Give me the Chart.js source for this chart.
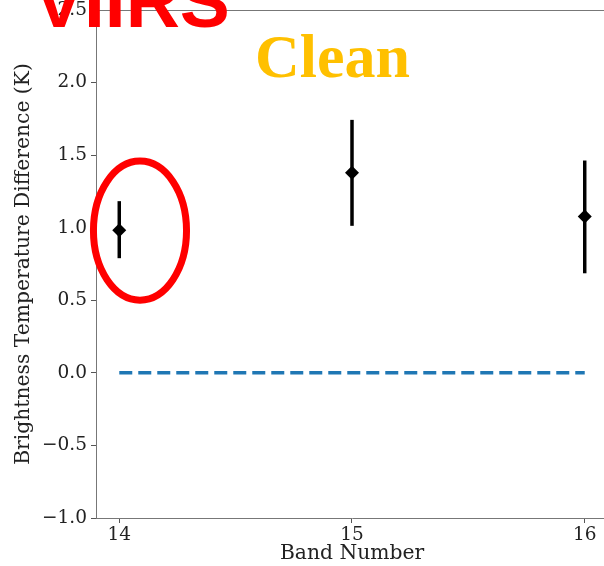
<!DOCTYPE html>
<html>
<head>
<meta charset="utf-8">
<script src="https://cdn.jsdelivr.net/npm/chart.js@4/dist/chart.umd.min.js"></script>
<style>
  html, body { margin: 0; padding: 0; background: #fff; overflow: hidden; width: 604px; height: 566px; }
  #wrap { position: relative; width: 620px; height: 566px; }
  canvas { position: absolute; left: 0; top: 0; }
  .lbl { position: absolute; white-space: nowrap; line-height: 1; }
  #viirs { font-family: "Liberation Sans", Arial, sans-serif; font-weight: bold; font-size: 75px; color: #ff0000; left: 34px; top: -36px; }
  #clean { font-family: "Liberation Serif", "Times New Roman", serif; font-weight: bold; font-size: 62px; color: #ffc000; left: 255px; top: 25px; }
</style>
</head>
<body>
<div id="wrap">
  <canvas id="c" width="620" height="566"></canvas>
  <div class="lbl" id="viirs">VIIRS</div>
  <div class="lbl" id="clean">Clean</div>
</div>
<script>
// ---- data ----
const bands = [14, 15, 16];
const meanDiff = [0.983, 1.378, 1.077];
const errLow = [0.79, 1.013, 0.686];
const errHigh = [1.183, 1.743, 1.463];
const zeroLineBands = [14, 16];
const zeroLineValues = [0, 0];
const yTickValues = [-1.0, -0.5, 0.0, 0.5, 1.0, 1.5, 2.0, 2.5];
const xTickValues = [14, 15, 16];
// highlight ellipse (data units)
const ellipseCenter = [14.089, 0.98];
const ellipseRadii = [0.2, 0.479];

const datasets = [];
datasets.push({
  type: 'line',
  data: zeroLineBands.map((b, i) => ({ x: b, y: zeroLineValues[i] })),
  borderColor: '#1f77b4',
  borderWidth: 3.5,
  borderDash: [13, 6],
  pointRadius: 0,
  fill: false
});
bands.forEach((b, i) => {
  datasets.push({
    type: 'line',
    data: [{ x: b, y: errLow[i] }, { x: b, y: errHigh[i] }],
    borderColor: '#000',
    borderWidth: 3.5,
    borderCapStyle: 'butt',
    pointRadius: 0,
    fill: false
  });
});
datasets.push({
  type: 'scatter',
  data: bands.map((b, i) => ({ x: b, y: meanDiff[i] })),
  backgroundColor: '#000',
  borderColor: '#000',
  pointStyle: 'rectRot',
  pointRadius: 7,
  borderWidth: 0
});

const fmt = v => (v < 0 ? '\u2212' : '') + Math.abs(v).toFixed(1);

const frame = {
  id: 'frame',
  afterDraw(chart) {
    const { ctx, chartArea: a, scales } = chart;
    ctx.save();
    // top spine
    ctx.strokeStyle = '#777';
    ctx.lineWidth = 1;
    ctx.beginPath();
    ctx.moveTo(a.left, a.top + 0.5);
    ctx.lineTo(a.right, a.top + 0.5);
    ctx.stroke();
    // highlight ellipse
    const cx = scales.x.getPixelForValue(ellipseCenter[0]);
    const cy = scales.y.getPixelForValue(ellipseCenter[1]);
    const rx = Math.abs(scales.x.getPixelForValue(ellipseCenter[0] + ellipseRadii[0]) - cx);
    const ry = Math.abs(scales.y.getPixelForValue(ellipseCenter[1] + ellipseRadii[1]) - cy);
    ctx.strokeStyle = '#ff0000';
    ctx.lineWidth = 7;
    ctx.beginPath();
    ctx.ellipse(cx, cy, rx, ry, 0, 0, Math.PI * 2);
    ctx.stroke();
    ctx.restore();
  }
};

new Chart(document.getElementById('c'), {
  type: 'scatter',
  data: { datasets },
  options: {
    responsive: false,
    animation: false,
    layout: { padding: { left: 8, top: 10, right: 12, bottom: 0 } },
    plugins: { legend: { display: false }, tooltip: { enabled: false } },
    scales: {
      x: {
        type: 'linear',
        min: 13.9,
        max: 16.1,
        afterBuildTicks: s => { s.ticks = xTickValues.map(v => ({ value: v })); },
        afterFit: s => { s.height = 48; s.paddingLeft = 0; s.paddingRight = 0; },
        grid: { display: true, drawOnChartArea: false, drawTicks: true, tickLength: 5, color: '#555' },
        border: { display: true, color: '#777', width: 1 },
        ticks: { color: '#222', font: { family: 'DejaVu Serif', size: 18.5 }, padding: 1, maxRotation: 0 },
        title: { display: true, text: 'Band Number', color: '#222', font: { family: 'DejaVu Serif', size: 20.3 }, padding: { top: 0, bottom: 0 } }
      },
      y: {
        type: 'linear',
        min: -1.0,
        max: 2.5,
        afterBuildTicks: s => { s.ticks = yTickValues.map(v => ({ value: v })); },
        afterFit: s => { s.width = 88; s.paddingTop = 0; s.paddingBottom = 0; },
        grid: { display: true, drawOnChartArea: false, drawTicks: true, tickLength: 5, color: '#555' },
        border: { display: true, color: '#777', width: 1 },
        ticks: { color: '#222', font: { family: 'DejaVu Serif', size: 18.5 }, padding: 4, callback: v => fmt(v) },
        title: { display: true, text: 'Brightness Temperature Difference (K)', color: '#222', font: { family: 'DejaVu Serif', size: 20.3 }, padding: { top: 4, bottom: 0 } }
      }
    }
  },
  plugins: [frame]
});
</script>
</body>
</html>
